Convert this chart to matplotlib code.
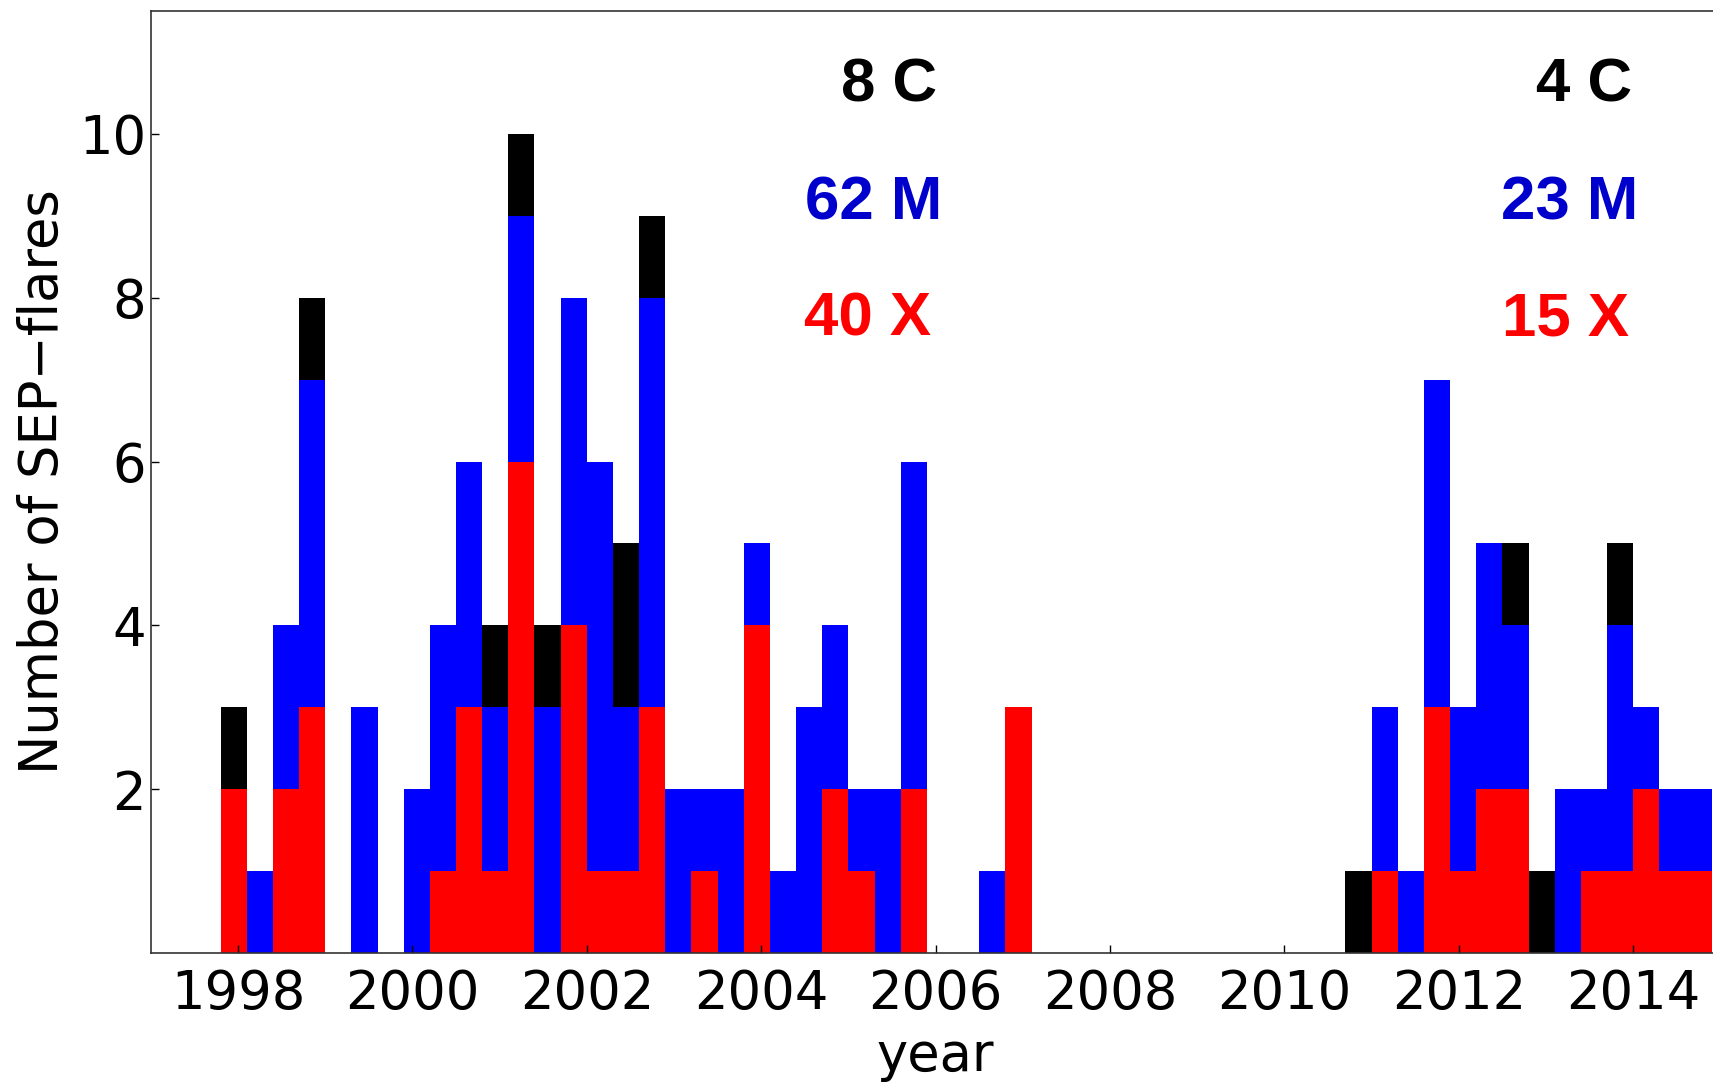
import numpy as np
import matplotlib.pyplot as plt

# SEP-associated flares per 0.3-year bin, split by GOES class
bin_start = 1997.8
bin_width = 0.3

x_class = [2, 0, 2, 3, 0, 0, 0, 0, 1, 3,
           1, 6, 0, 4, 1, 1, 3, 0, 1, 0,
           4, 0, 0, 2, 1, 0, 2, 0, 0, 0,
           3, 0, 0, 0, 0, 0, 0, 0, 0, 0,
           0, 0, 0, 0, 1, 0, 3, 1, 2, 2,
           0, 0, 1, 1, 2, 1, 1]
m_class = [0, 1, 2, 4, 0, 3, 0, 2, 3, 3,
           2, 3, 3, 4, 5, 2, 5, 2, 1, 2,
           1, 1, 3, 2, 1, 2, 4, 0, 0, 1,
           0, 0, 0, 0, 0, 0, 0, 0, 0, 0,
           0, 0, 0, 0, 2, 1, 4, 2, 3, 2,
           0, 2, 1, 3, 1, 1, 1]
c_class = [1, 0, 0, 1, 0, 0, 0, 0, 0, 0,
           1, 1, 1, 0, 0, 2, 1, 0, 0, 0,
           0, 0, 0, 0, 0, 0, 0, 0, 0, 0,
           0, 0, 0, 0, 0, 0, 0, 0, 0, 0,
           0, 0, 0, 1, 0, 0, 0, 0, 0, 1,
           1, 0, 0, 1, 0, 0, 0]

# cycle 23 / cycle 24 split
cycle_split = 2009.0

X = np.array(x_class)
M = np.array(m_class)
C = np.array(c_class)
edges = bin_start + bin_width * np.arange(len(X))

fig = plt.figure(figsize=(17.13, 10.84), dpi=100)
ax = fig.add_axes([150.8 / 1713, 131 / 1084, 1569.6 / 1713, 942 / 1084])

ax.bar(edges, X, width=bin_width, align='edge', color='#ff0000', linewidth=0)
ax.bar(edges, M, width=bin_width, align='edge', bottom=X, color='#0000ff', linewidth=0)
ax.bar(edges, C, width=bin_width, align='edge', bottom=X + M, color='#000000', linewidth=0)

ax.set_xlim(1997, 2015)
ax.set_ylim(0, 11.5)
ax.set_xticks([1998, 2000, 2002, 2004, 2006, 2008, 2010, 2012, 2014])
ax.set_yticks([2, 4, 6, 8, 10])
ax.tick_params(direction='in', length=6, width=1, labelsize=38)
ax.tick_params(axis='x', pad=11)
ax.tick_params(axis='y', pad=3.5)
for s in ax.spines.values():
    s.set_linewidth(1.2)
    s.set_color('#333333')

ax.set_xlabel('year', fontsize=38, labelpad=7)
ax.set_ylabel('Number of SEP\u2212flares', fontsize=38, labelpad=7)

# totals per cycle
first = edges < cycle_split
second = ~first
bold = dict(fontsize=44.5, fontweight='bold', family='Liberation Sans', va='baseline', ha='left')
H = 1084.0
W = 1713.0
fig.text(841 / W, 1 - 102 / H, '%d C' % C[first].sum(), color='black', **bold)
fig.text(805 / W, 1 - 219 / H, '%d M' % M[first].sum(), color='#0000cc', **bold)
fig.text(804 / W, 1 - 336 / H, '%d X' % X[first].sum(), color='#ff0000', **bold)
fig.text(1536 / W, 1 - 102 / H, '%d C' % C[second].sum(), color='black', **bold)
fig.text(1501 / W, 1 - 219 / H, '%d M' % M[second].sum(), color='#0000cc', **bold)
fig.text(1502 / W, 1 - 336 / H, '%d X' % X[second].sum(), color='#ff0000', **bold)

plt.savefig('out.png', dpi=100)
